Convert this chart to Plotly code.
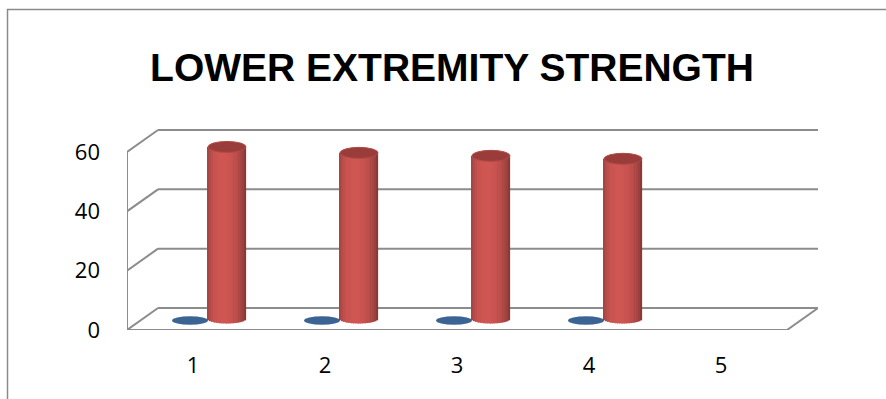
import numpy as np
import plotly.graph_objects as go

# ---- data ----
categories = [1, 2, 3, 4, 5]
series_blue = [0, 0, 0, 0, None]
series_red = [58, 56, 55, 54, None]
y_ticks = [0, 20, 40, 60]
title_text = "LOWER EXTREMITY STRENGTH"

# ---- 3-D look: depth of the floor/back wall expressed in axis units ----
PX_PER_CAT = 132.0
PX_PER_UNIT = 178.0 / 60.0
DEPTH_DX = 31.0 / PX_PER_CAT          # horizontal shift of the back plane
DEPTH_DV = 22.0 / PX_PER_UNIT         # vertical shift of the back plane
MID_DX, MID_DV = DEPTH_DX / 2, DEPTH_DV / 2

SERIES_OFFSET = 18.5 / PX_PER_CAT     # blue left / red right of centre
CYL_W = 38.0 / PX_PER_CAT
TOP_EH = 11.0 / PX_PER_UNIT           # height of the top ellipse
BOT_EH = 9.0 / PX_PER_UNIT
DISK_W = 36.0 / PX_PER_CAT
DISK_H = 8.5 / PX_PER_UNIT

GRID = "#8c8c8c"
RED = np.array([192, 80, 77])
BLUE = "#3b6495"

L, R, T, B = 127, 68, 100, 69
W, H = 886, 399
x_range = [0.5, 0.5 + (W - L - R) / PX_PER_CAT]
y_range = [0, (H - T - B) / PX_PER_UNIT]

fig = go.Figure()

# cylinder bodies: vertical strips shaded like a lit cylinder
N = 22
u = (np.arange(N) + 0.5) / N * 2 - 1
theta = np.arcsin(u)
shade = 0.68 + 0.40 * np.cos(theta + 0.2)
strip_w = CYL_W / N

xs, bases, heights, colors = [], [], [], []
for cat, val in zip(categories, series_red):
    if val is None:
        continue
    cx = cat + MID_DX + SERIES_OFFSET
    for ui, k in zip(u, shade):
        b = MID_DV - BOT_EH / 2 * np.sqrt(1 - ui ** 2)
        xs.append(cx + ui * CYL_W / 2)
        bases.append(b)
        heights.append(val + MID_DV - b)
        c = np.clip(RED * k, 0, 255).astype(int)
        colors.append(f"rgb({c[0]},{c[1]},{c[2]})")

fig.add_trace(go.Bar(
    x=xs, y=heights, base=bases, width=strip_w * 1.15,
    marker=dict(color=colors, line=dict(width=0)),
    showlegend=False, hoverinfo="skip",
))

shapes = []

# back wall gridlines + left wall diagonals
for v in y_ticks:
    shapes.append(dict(type="line", xref="x", yref="y",
                       x0=0.5 + DEPTH_DX, y0=v + DEPTH_DV,
                       x1=x_range[1], y1=v + DEPTH_DV,
                       line=dict(color=GRID, width=2), layer="below"))
    shapes.append(dict(type="line", xref="x", yref="y",
                       x0=0.5, y0=v, x1=0.5 + DEPTH_DX, y1=v + DEPTH_DV,
                       line=dict(color=GRID, width=2), layer="below"))
# left wall front edge
shapes.append(dict(type="line", xref="x", yref="y",
                   x0=0.5, y0=0, x1=0.5, y1=y_ticks[-1],
                   line=dict(color=GRID, width=2), layer="below"))
# floor front edge and right edge
x_end = 0.5 + len(categories)
shapes.append(dict(type="line", xref="x", yref="y",
                   x0=0.5, y0=0, x1=x_end, y1=0,
                   line=dict(color=GRID, width=2), layer="below"))
shapes.append(dict(type="line", xref="x", yref="y",
                   x0=x_end, y0=0, x1=x_end + DEPTH_DX, y1=DEPTH_DV,
                   line=dict(color=GRID, width=2), layer="below"))

# flat disks for the zero-valued series
for cat, val in zip(categories, series_blue):
    if val is None:
        continue
    cx = cat + MID_DX - SERIES_OFFSET
    cy = val + MID_DV - 0.5
    shapes.append(dict(type="circle", xref="x", yref="y",
                       x0=cx - DISK_W / 2, x1=cx + DISK_W / 2,
                       y0=cy - DISK_H / 2, y1=cy + DISK_H / 2,
                       fillcolor=BLUE, line=dict(width=0), layer="above"))

# cylinder tops
for cat, val in zip(categories, series_red):
    if val is None:
        continue
    cx = cat + MID_DX + SERIES_OFFSET
    cy = val + MID_DV
    shapes.append(dict(type="circle", xref="x", yref="y",
                       x0=cx - CYL_W / 2, x1=cx + CYL_W / 2,
                       y0=cy - TOP_EH / 2, y1=cy + TOP_EH / 2,
                       fillcolor="#9a3d3a",
                       line=dict(color="#b04a47", width=1), layer="above"))

# chart frame (left and top edges visible)
px2x = lambda px: (px - L) / (W - L - R)
py2y = lambda py: (H - B - py) / (H - T - B)
shapes.append(dict(type="rect", xref="paper", yref="paper",
                   x0=px2x(7.5), x1=px2x(900), y0=py2y(410), y1=py2y(9.5),
                   line=dict(color="#8a8a8a", width=1.5), layer="below"))

fig.update_layout(
    width=W, height=H,
    margin=dict(l=L, r=R, t=T, b=B),
    paper_bgcolor="white", plot_bgcolor="rgba(0,0,0,0)",
    barmode="overlay",
    shapes=shapes,
    title=dict(text=f"<b>{title_text}</b>", x=452 / W, xanchor="center",
               y=1 - 67 / H, yanchor="middle",
               font=dict(family="Liberation Sans, Arial", size=39, color="black")),
    xaxis=dict(range=x_range, tickvals=categories,
               ticktext=[str(c) for c in categories],
               showgrid=False, zeroline=False, showline=False, ticks="",
               ticklabelstandoff=20,
               tickfont=dict(family="Open Sans, Liberation Sans", size=22, color="black")),
    yaxis=dict(range=y_range, tickvals=y_ticks,
               showgrid=False, zeroline=False, showline=False, ticks="",
               ticklabelstandoff=26,
               tickfont=dict(family="Open Sans, Liberation Sans", size=22, color="black")),
)

fig.write_html("out.html")
